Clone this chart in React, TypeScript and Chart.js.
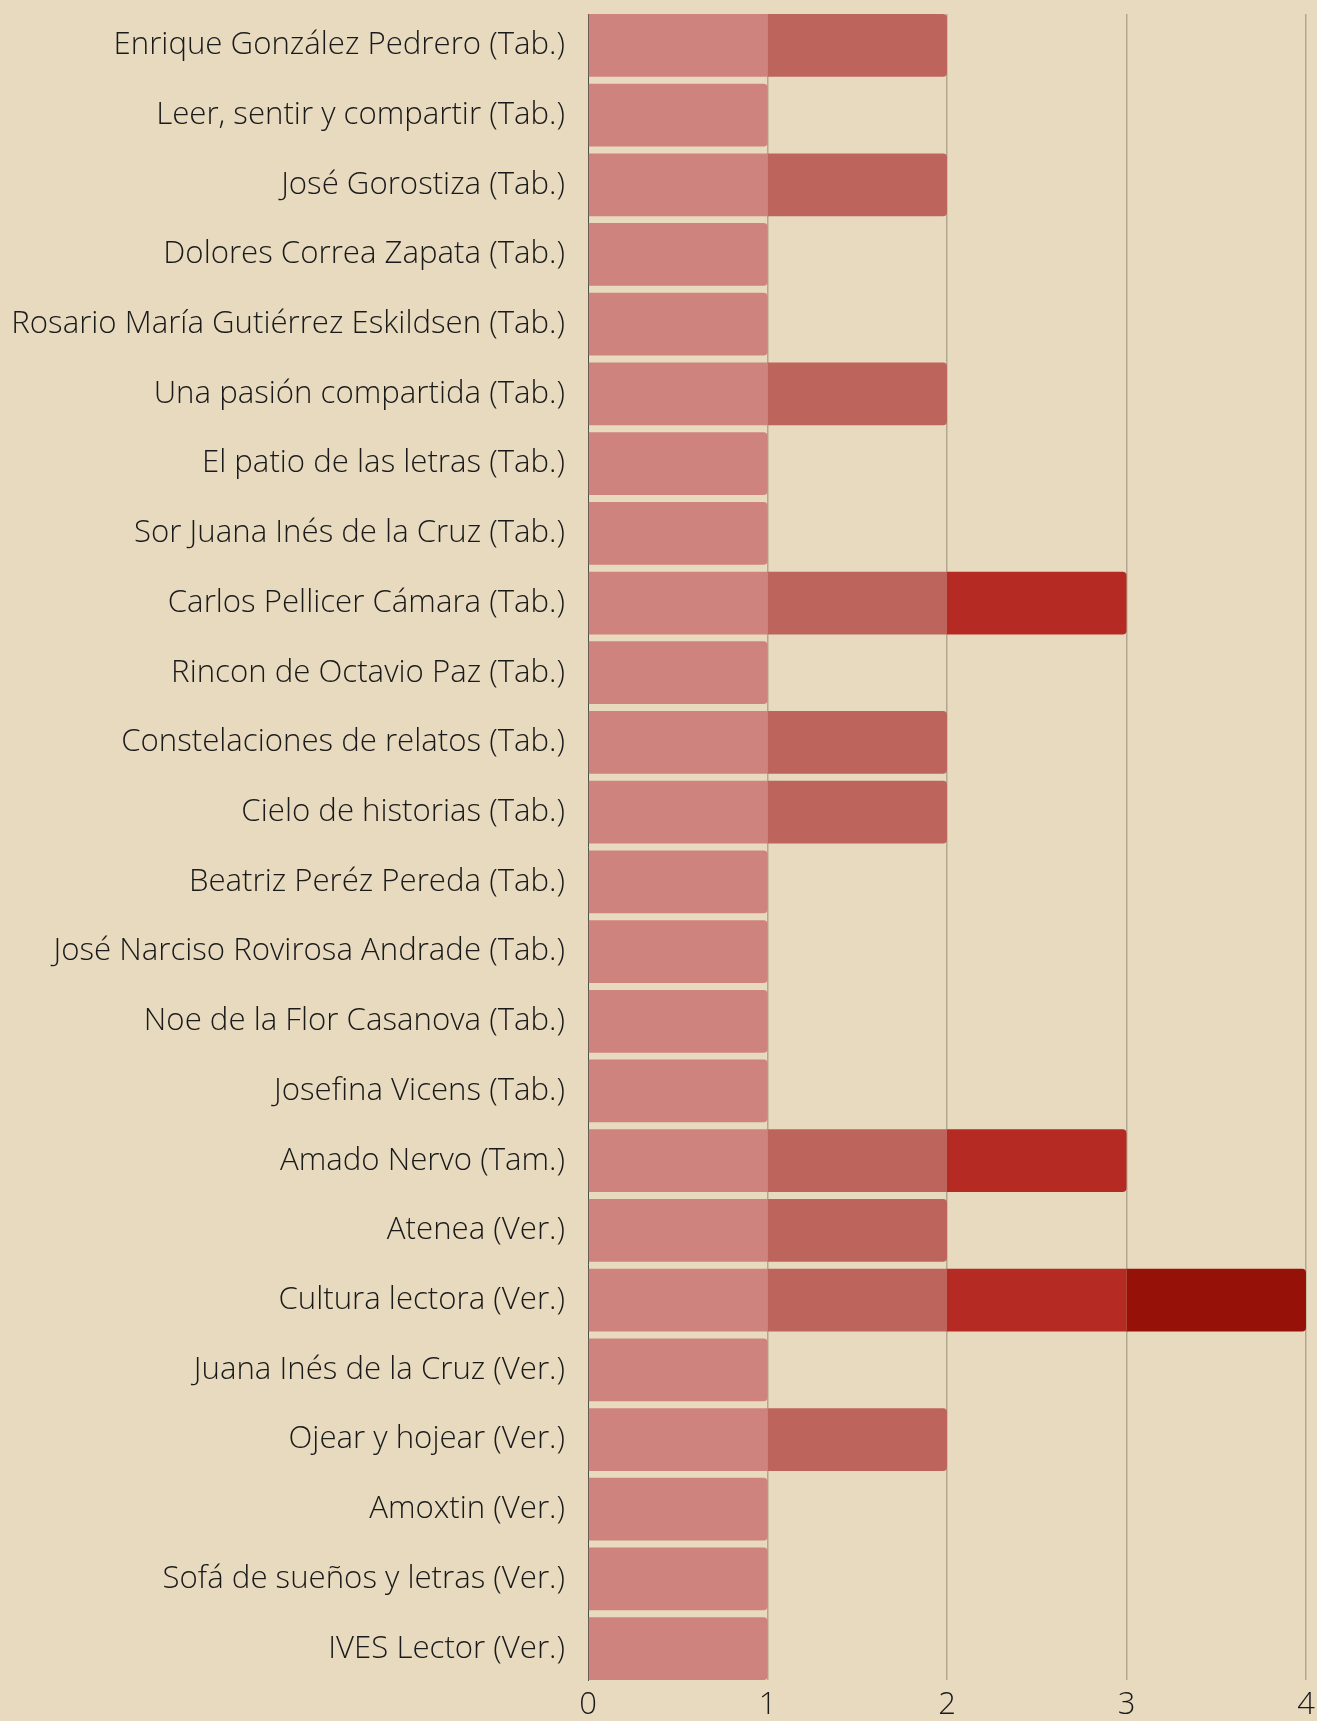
import React, { useEffect, useRef } from "react";
import { Chart, registerables } from "chart.js";

Chart.register(...registerables);

const categories: string[] = [
  "Enrique González Pedrero (Tab.)",
  "Leer, sentir y compartir (Tab.)",
  "José Gorostiza (Tab.)",
  "Dolores Correa Zapata (Tab.)",
  "Rosario María Gutiérrez Eskildsen (Tab.)",
  "Una pasión compartida (Tab.)",
  "El patio de las letras (Tab.)",
  "Sor Juana Inés de la Cruz (Tab.)",
  "Carlos Pellicer Cámara (Tab.)",
  "Rincon de Octavio Paz (Tab.)",
  "Constelaciones de relatos (Tab.)",
  "Cielo de historias (Tab.)",
  "Beatriz Peréz Pereda (Tab.)",
  "José Narciso Rovirosa Andrade (Tab.)",
  "Noe de la Flor Casanova (Tab.)",
  "Josefina Vicens (Tab.)",
  "Amado Nervo (Tam.)",
  "Atenea (Ver.)",
  "Cultura lectora (Ver.)",
  "Juana Inés de la Cruz (Ver.)",
  "Ojear y hojear (Ver.)",
  "Amoxtin (Ver.)",
  "Sofá de sueños y letras (Ver.)",
  "IVES Lector (Ver.)",
];

const series1: number[] = [1, 1, 1, 1, 1, 1, 1, 1, 1, 1, 1, 1, 1, 1, 1, 1, 1, 1, 1, 1, 1, 1, 1, 1];
const series2: number[] = [1, 0, 1, 0, 0, 1, 0, 0, 1, 0, 1, 1, 0, 0, 0, 0, 1, 1, 1, 0, 1, 0, 0, 0];
const series3: number[] = [0, 0, 0, 0, 0, 0, 0, 0, 1, 0, 0, 0, 0, 0, 0, 0, 1, 0, 1, 0, 0, 0, 0, 0];
const series4: number[] = [0, 0, 0, 0, 0, 0, 0, 0, 0, 0, 0, 0, 0, 0, 0, 0, 0, 0, 1, 0, 0, 0, 0, 0];

const seriesColors: string[] = ["#cf837e", "#bd645d", "#b52b24", "#961208"];
const xTicks: number[] = [0, 1, 2, 3, 4];

const BG = "#e7dabf";
const GRID = "#b2a78f";
const FONT = "'Open Sans', 'Noto Sans', sans-serif";

export default function App() {
  const canvasRef = useRef<HTMLCanvasElement | null>(null);

  useEffect(() => {
    document.body.style.margin = "0";
    document.body.style.background = BG;
    const canvas = canvasRef.current;
    if (!canvas) return;
    const allSeries = [series1, series2, series3, series4];
    const chart = new Chart(canvas, {
      type: "bar",
      data: {
        datasets: allSeries.map((s, k) => ({
          label: "S" + (k + 1),
          data: s.map((v, i) => ({ x: v, y: i })),
          backgroundColor: seriesColors[k],
          borderWidth: 0,
          borderRadius: 4,
          categoryPercentage: 1,
          barPercentage: 0.9,
        })),
      },
      options: {
        indexAxis: "y",
        animation: false,
        responsive: false,
        maintainAspectRatio: false,
        layout: { padding: { top: 14, right: 11, bottom: 0, left: 0 } },
        plugins: { legend: { display: false }, tooltip: { enabled: false } },
        scales: {
          x: {
            type: "linear",
            stacked: true,
            min: 0,
            max: 4,
            afterBuildTicks: (scale: any) => {
              scale.ticks = xTicks.map((v) => ({ value: v }));
            },
            afterFit: (scale: any) => {
              scale.height = 41;
              scale.paddingRight = 0;
              scale.paddingLeft = 0;
            },
            grid: {
              color: (ctx: any) => (ctx.tick && ctx.tick.value === 0 ? "rgba(0,0,0,0)" : GRID),
              lineWidth: 1.5,
              drawTicks: false,
            },
            border: { display: false },
            ticks: {
              padding: 7,
              color: "#1a1a1a",
              font: { family: FONT, size: 31, weight: "300" },
            },
          },
          y: {
            type: "linear",
            stacked: true,
            reverse: true,
            offset: false,
            bounds: "data",
            min: -0.45,
            max: categories.length - 0.55,
            afterBuildTicks: (scale: any) => {
              scale.ticks = categories.map((_, i) => ({ value: i }));
            },
            afterFit: (scale: any) => {
              scale.width = 588;
              scale.paddingTop = 0;
              scale.paddingBottom = 0;
            },
            grid: { drawOnChartArea: false, drawTicks: false, offset: false },
            border: { display: true, color: "#4a4f48", width: 1 },
            ticks: {
              padding: 23,
              color: "#1a1a1a",
              autoSkip: false,
              font: { family: FONT, size: 31.2, weight: "300" },
              callback: (v: any) => categories[v as number] ?? "",
            },
          },
        },
      } as any,
    });
    return () => chart.destroy();
  }, []);

  return (
    <div style={{ width: 1317, height: 1721, background: BG }}>
      <canvas ref={canvasRef} width={1317} height={1721} style={{ display: "block" }} />
    </div>
  );
}
